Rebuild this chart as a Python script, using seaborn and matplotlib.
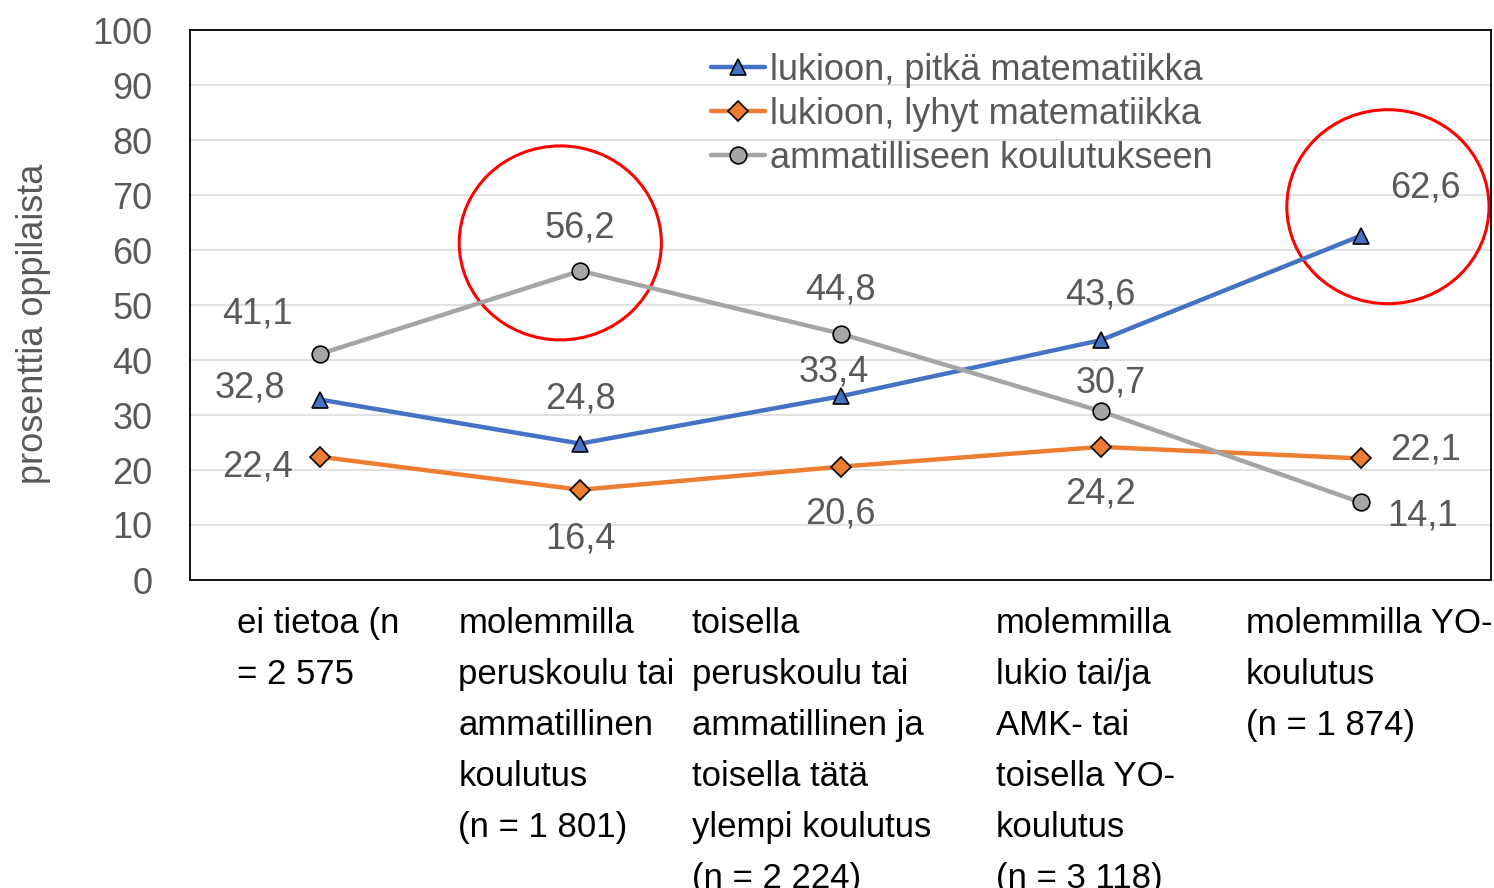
import numpy as np
import pandas as pd
import seaborn as sns
import matplotlib.pyplot as plt
from matplotlib.patches import Ellipse
from matplotlib.transforms import ScaledTranslation

# data
categories = [
    "ei tietoa (n\n= 2 575",
    "molemmilla\nperuskoulu tai\nammatillinen\nkoulutus\n(n = 1 801)",
    "toisella\nperuskoulu tai\nammatillinen ja\ntoisella tätä\nylempi koulutus\n(n = 2 224)",
    "molemmilla\nlukio tai/ja\nAMK- tai\ntoisella YO-\nkoulutus\n(n = 3 118)",
    "molemmilla YO-\nkoulutus\n(n = 1 874)",
]
series_names = ["lukioon, pitkä matematiikka", "lukioon, lyhyt matematiikka",
                "ammatilliseen koulutukseen"]
pitka = [32.8, 24.8, 33.4, 43.6, 62.6]
lyhyt = [22.4, 16.4, 20.6, 24.2, 22.1]
ammatillinen = [41.1, 56.2, 44.8, 30.7, 14.1]
y_ticks = list(range(0, 101, 10))

colors = ["#4472C4", "#ED7D31", "#A5A5A5"]
markers = ["^", "D", "o"]
msizes = [12, 10, 12]

# label offsets in pixels (dx, dy) for each point
label_offsets = [
    [(-70, 12), (0, 45), (-7, 24), (0, 45), (65, 48)],
    [(-63, -10), (0, -49), (0, -47), (0, -47), (65, 8)],
    [(-63, 40), (0, 43), (0, 44), (10, 28), (62, -14)],
]
# left edge of each category label relative to its tick, pixels
cat_shift = [-83, -122, -149, -105, -115]

sns.set_theme(style="white")
plt.rcParams["font.family"] = ["Liberation Sans", "DejaVu Sans"]
txt_grey = "#595959"
fs = 26
fs_cat = 25

fig = plt.figure(figsize=(14.94, 8.88), dpi=100)
ax = fig.add_axes([190 / 1494, 1 - 580 / 888, 1301 / 1494, 550 / 888])

pos = np.arange(len(categories))
all_series = [pitka, lyhyt, ammatillinen]
for vals, name, c, m, ms in zip(all_series, series_names, colors, markers, msizes):
    sns.lineplot(x=pos, y=vals, ax=ax, color=c, marker=m, markersize=ms,
                 markeredgecolor="black", markeredgewidth=1.2, linewidth=3.2,
                 label=name, legend=False)

for vals, offs in zip(all_series, label_offsets):
    for x, v, (dx, dy) in zip(pos, vals, offs):
        ax.annotate(f"{v:.1f}".replace(".", ","), (x, v), xytext=(dx, dy),
                    textcoords="offset pixels", ha="center", va="center",
                    fontsize=fs, color=txt_grey)

# red highlight circles
ax.add_patch(Ellipse((1 - 20 / 260, ammatillinen[1] + 28 / 5.5), 202 / 260, 194 / 5.5,
                     fill=False, edgecolor="red", linewidth=2.2, clip_on=False))
ax.add_patch(Ellipse((4 + 27 / 260, pitka[4] + 29 / 5.5), 202 / 260, 194 / 5.5,
                     fill=False, edgecolor="red", linewidth=2.2, clip_on=False))

ax.set_xlim(-0.5, 4.5)
ax.set_ylim(0, 100)
ax.set_yticks(y_ticks)
ax.set_yticklabels([str(t) for t in y_ticks], fontsize=fs, color=txt_grey)
ax.set_xticks(pos)
ax.set_xticklabels([])
# category labels, left aligned blocks under each category
for x, lab, sh in zip(pos, categories, cat_shift):
    tr = ax.get_xaxis_transform() + ScaledTranslation(sh / 100, -27 / 100, fig.dpi_scale_trans)
    ax.text(x, 0, lab, transform=tr, fontsize=fs_cat, color="black", linespacing=1.69,
            va="top", ha="left", multialignment="left", clip_on=False)
ax.tick_params(axis="y", length=0, pad=27)
ax.tick_params(axis="x", length=0)
ax.grid(axis="y", color="#D9D9D9", linewidth=1.1)
ax.set_axisbelow(True)
for s in ax.spines.values():
    s.set_color("black")
    s.set_linewidth(1.3)

ax.set_ylabel("prosenttia oppilaista", fontsize=fs, color=txt_grey)
ax.yaxis.set_label_coords(-0.107, 0.465)

ax.legend(ax.lines[:3], series_names, loc="upper left", bbox_to_anchor=(0.389, 0.985),
          frameon=False, fontsize=fs, handlelength=1.5, handletextpad=0.14,
          labelspacing=0.25, labelcolor=txt_grey, borderaxespad=0)

fig.savefig("out.png", dpi=100)
